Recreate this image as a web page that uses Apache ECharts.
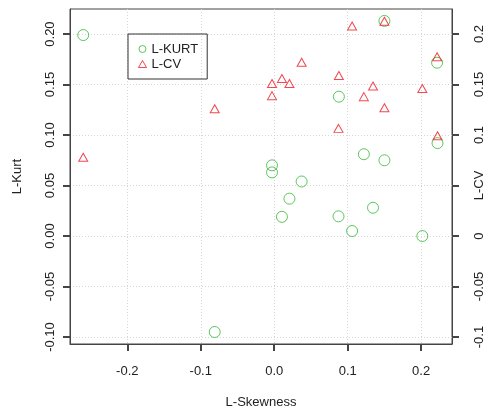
<!DOCTYPE html>
<html>
<head>
<meta charset="utf-8">
<script src="https://cdn.jsdelivr.net/npm/echarts@6/dist/echarts.min.js"></script>
<style>
  html, body { margin: 0; padding: 0; background: #fff; }
  #chart { width: 487px; height: 411px; }
</style>
</head>
<body>
<div id="chart"></div>
<script>
// one entry per site: L-skewness, L-kurtosis, L-CV
const skewness = [-0.260, -0.081, -0.003, -0.003, 0.0105, 0.0207, 0.0373, 0.088, 0.0875,
  0.106, 0.122, 0.1345, 0.150, 0.150, 0.2016, 0.2217, 0.2223];
const kurtosis = [0.199, -0.095, 0.070, 0.063, 0.019, 0.037, 0.054, 0.138, 0.0195,
  0.005, 0.081, 0.028, 0.213, 0.075, 0.000, 0.1716, 0.092];
const lcv = [0.078, 0.126, 0.151, 0.139, 0.156, 0.151, 0.172, 0.159, 0.1066,
  0.208, 0.138, 0.1485, 0.2126, 0.127, 0.146, 0.1775, 0.0993];

const xTicks = [-0.2, -0.1, 0.0, 0.1, 0.2];
const leftTicks = [-0.1, -0.05, 0, 0.05, 0.1, 0.15, 0.2];
const rightLabels = [-0.1, -0.05, 0, 0.1, 0.15, 0.2];

const green = '#35b835';
const red = '#ec1c24';
const textColor = '#222';
const font = 'Liberation Sans, Arial, sans-serif';

const chart = echarts.init(document.getElementById('chart'));

const yRange = { min: -0.1069, max: 0.2248 };
const gridLines = { show: true, lineStyle: { color: '#d6d6d6', type: [1, 2], width: 1 } };

function ticks(values) {
  return { show: true, length: 7, customValues: values, lineStyle: { color: '#444', width: 2 } };
}

chart.setOption({
  animation: false,
  grid: {
    left: 70, right: 35, top: 9, bottom: 67,
    outerBoundsMode: 'none',
    containLabel: false,
    show: true, borderColor: '#444', borderWidth: 1
  },
  legend: {
    orient: 'vertical',
    left: 128, top: 34,
    padding: [8, 9, 8, 10],
    itemWidth: 8, itemHeight: 7, itemGap: 1,
    borderColor: '#333', borderWidth: 1, borderRadius: 0,
    textStyle: { fontFamily: font, fontSize: 13, color: textColor, lineHeight: 14 },
    data: [
      { name: 'L-KURT', icon: 'circle', itemStyle: { color: 'transparent', borderColor: green, borderWidth: 1 } },
      { name: 'L-CV', icon: 'triangle', itemStyle: { color: 'transparent', borderColor: red, borderWidth: 1 } }
    ]
  },
  xAxis: {
    type: 'value',
    min: -0.278, max: 0.242,
    name: 'L-Skewness', nameLocation: 'middle', nameGap: 52, nameMoveOverlap: false,
    nameTextStyle: { fontFamily: font, fontSize: 13, color: textColor },
    axisLine: { show: true, onZero: false, lineStyle: { color: '#444' } },
    axisTick: ticks(xTicks),
    axisLabel: {
      customValues: xTicks, margin: 21,
      fontFamily: font, fontSize: 13, color: textColor,
      formatter: v => v.toFixed(1)
    },
    splitLine: gridLines
  },
  yAxis: [
    {
      type: 'value',
      min: yRange.min, max: yRange.max,
      name: 'L-Kurt', nameLocation: 'middle', nameGap: 46, nameMoveOverlap: false,
      nameTextStyle: { fontFamily: font, fontSize: 13, color: textColor },
      axisLine: { show: true, onZero: false, lineStyle: { color: '#444' } },
      axisTick: ticks(leftTicks),
      axisLabel: {
        customValues: leftTicks, rotate: 90, margin: 13,
        fontFamily: font, fontSize: 13, color: textColor,
        formatter: v => v.toFixed(2)
      },
      splitLine: gridLines
    },
    {
      type: 'value',
      position: 'right',
      min: yRange.min, max: yRange.max,
      name: 'L-CV', nameLocation: 'middle', nameGap: 21, nameRotate: 90, nameMoveOverlap: false,
      nameTextStyle: { fontFamily: font, fontSize: 13, color: textColor, padding: [0, 18, 0, 0] },
      axisLine: { show: true, onZero: false, lineStyle: { color: '#444' } },
      axisTick: ticks(leftTicks),
      axisLabel: {
        customValues: rightLabels, rotate: 90, margin: 21,
        fontFamily: font, fontSize: 13, color: textColor,
        formatter: v => String(+v.toFixed(2))
      },
      splitLine: { show: false }
    }
  ],
  series: [
    {
      name: 'L-KURT',
      type: 'scatter',
      yAxisIndex: 0,
      symbol: 'circle',
      symbolSize: 11,
      itemStyle: { color: 'transparent', borderColor: green, borderWidth: 1 },
      data: skewness.map((s, i) => [s, kurtosis[i]])
    },
    {
      name: 'L-CV',
      type: 'scatter',
      yAxisIndex: 1,
      symbol: 'triangle',
      symbolSize: [9, 8],
      itemStyle: { color: 'transparent', borderColor: red, borderWidth: 1 },
      data: skewness.map((s, i) => [s, lcv[i]])
    }
  ]
});
</script>
</body>
</html>
